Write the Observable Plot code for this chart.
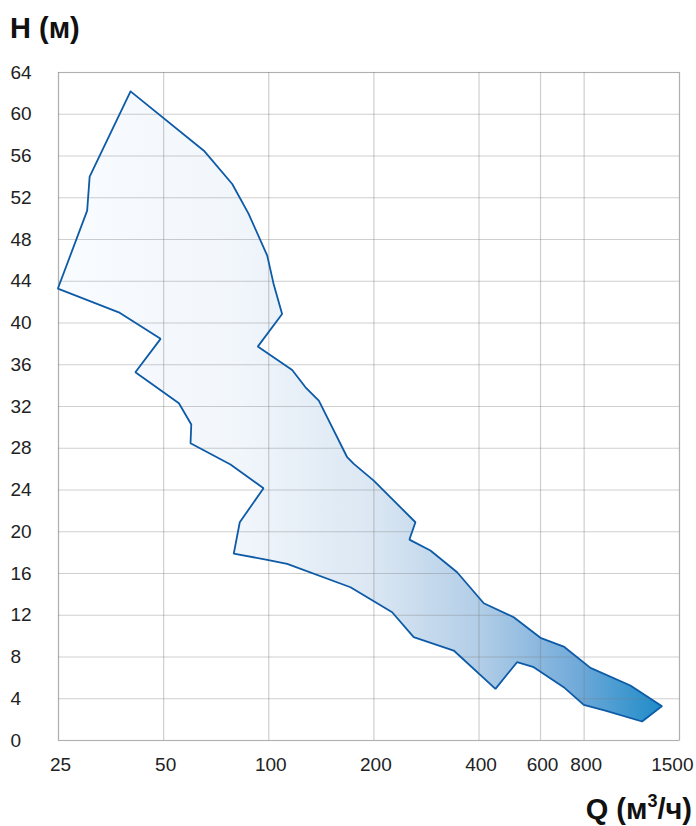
<!DOCTYPE html>
<html>
<head>
<meta charset="utf-8">
<script src="https://cdn.jsdelivr.net/npm/d3@7"></script>
<script src="https://cdn.jsdelivr.net/npm/@observablehq/plot@0.6"></script>
<style>
  html, body { margin: 0; padding: 0; background: #fff; }
  #chart svg { display: block; }
</style>
</head>
<body>
<div id="chart"></div>
<script>
// Outline of the operating range (Q in m3/h, H in m), traced clockwise from the peak
const flowQ = [40.2, 65.2, 78.6, 87.5, 99.0, 103.2, 109.2, 93.0, 116.7, 127.4, 139.1, 167.7, 175.2, 199.8,
  263.0, 252.8, 290.3, 346.2, 412.7, 502.9, 599.7, 699, 834, 1085, 1337,
  1172, 920, 798, 699, 573.8, 514, 445.8, 338.5, 260, 225.6, 171.4, 112.9, 99.0, 79.4,
  82.6, 96.6, 77.7, 59.7, 60.0, 55.3, 41.5, 49.0, 37.2, 24.9, 30.2, 30.7];
const headH = [62.19, 56.51, 53.32, 50.48, 46.46, 43.77, 40.87, 37.74, 35.49, 33.84, 32.57, 27.14, 26.50, 24.90,
  20.91, 19.25, 18.20, 16.12, 13.15, 11.81, 9.84, 9.00, 6.96, 5.27, 3.29,
  1.82, 2.87, 3.42, 5.11, 7.02, 7.50, 4.95, 8.62, 9.91, 12.29, 14.68, 16.93, 17.31, 17.91,
  20.91, 24.17, 26.44, 28.48, 30.27, 32.31, 35.28, 38.48, 41.02, 43.30, 50.77, 54.02];
const xTicks = [25, 50, 100, 200, 400, 600, 800, 1500];
const yTicks = [0, 4, 8, 12, 16, 20, 24, 28, 32, 36, 40, 44, 48, 52, 56, 60, 64];
const yTitle = "H (м)";
const xTitle = ["Q (м", "3", "/ч)"];

const outline = flowQ.map((q, i) => ({Q: q, H: headH[i]}));
outline.push(outline[0]);

const font = "'Liberation Sans', Arial, sans-serif";
const innerTicks = xTicks.slice(0, -1);
const lastTick = xTicks.slice(-1);

const chart = Plot.plot({
  width: 696,
  height: 826,
  marginTop: 72,
  marginBottom: 86,
  marginLeft: 58,
  marginRight: 17,
  style: {fontFamily: font, fontSize: "19px", color: "#222", background: "#fff"},
  x: {type: "log", domain: [25, 1500], ticks: xTicks, axis: null},
  y: {domain: [0, 64], ticks: yTicks, axis: null},
  marks: [
    Plot.line(outline, {x: "Q", y: "H", fill: "#9fc3e3", stroke: "none", className: "envelope"}),
    Plot.gridX(xTicks, {stroke: "#7a7a7a", strokeOpacity: 0.36, strokeWidth: 1.2}),
    Plot.gridY(yTicks, {stroke: "#7a7a7a", strokeOpacity: 0.36, strokeWidth: 1.2}),
    Plot.frame({stroke: "#7a7a7a", strokeOpacity: 0.36, strokeWidth: 1.2}),
    Plot.line(outline, {x: "Q", y: "H", stroke: "#0d5aa7", strokeWidth: 1.8, strokeLinejoin: "miter"}),
    Plot.text(innerTicks, {x: d => d, frameAnchor: "bottom", lineAnchor: "top", dy: 17, text: d => String(d), fontSize: 19, fill: "#222", dx: 2}),
    Plot.text(lastTick, {x: d => d, frameAnchor: "bottom", lineAnchor: "top", dy: 17, text: d => String(d), fontSize: 19, fill: "#222", textAnchor: "end", dx: 14}),
    Plot.text(yTicks, {y: d => d, frameAnchor: "left", textAnchor: "start", dx: -48, text: d => String(d), fontSize: 19, fill: "#222"})
  ]
});

const svg = d3.select(chart);
const defs = svg.insert("defs", ":first-child");
const grad = defs.append("linearGradient")
  .attr("id", "envGrad")
  .attr("gradientUnits", "userSpaceOnUse")
  .attr("x1", 58).attr("x2", 662).attr("y1", 0).attr("y2", 0);
[[0, "#f9fcff"], [0.3, "#f1f6fb"], [0.52, "#dbe7f3"], [0.7, "#b1cde7"], [0.85, "#75acda"], [1, "#1e8bc8"]]
  .forEach(([o, c]) => grad.append("stop").attr("offset", o).attr("stop-color", c));
svg.selectAll(".envelope path, g.envelope").attr("fill", "url(#envGrad)");

svg.append("text")
  .attr("x", 10).attr("y", 38)
  .attr("text-anchor", "start")
  .attr("font-family", font).attr("font-weight", "bold").attr("font-size", 29)
  .attr("fill", "#111")
  .text(yTitle);

const qt = svg.append("text")
  .attr("x", 692).attr("y", 819)
  .attr("text-anchor", "end")
  .attr("font-family", font).attr("font-weight", "bold").attr("font-size", 29)
  .attr("fill", "#111");
qt.append("tspan").text(xTitle[0]);
qt.append("tspan").attr("font-size", 18).attr("dy", -12).text(xTitle[1]);
qt.append("tspan").attr("dy", 12).text(xTitle[2]);

document.getElementById("chart").appendChild(chart);
</script>
</body>
</html>
